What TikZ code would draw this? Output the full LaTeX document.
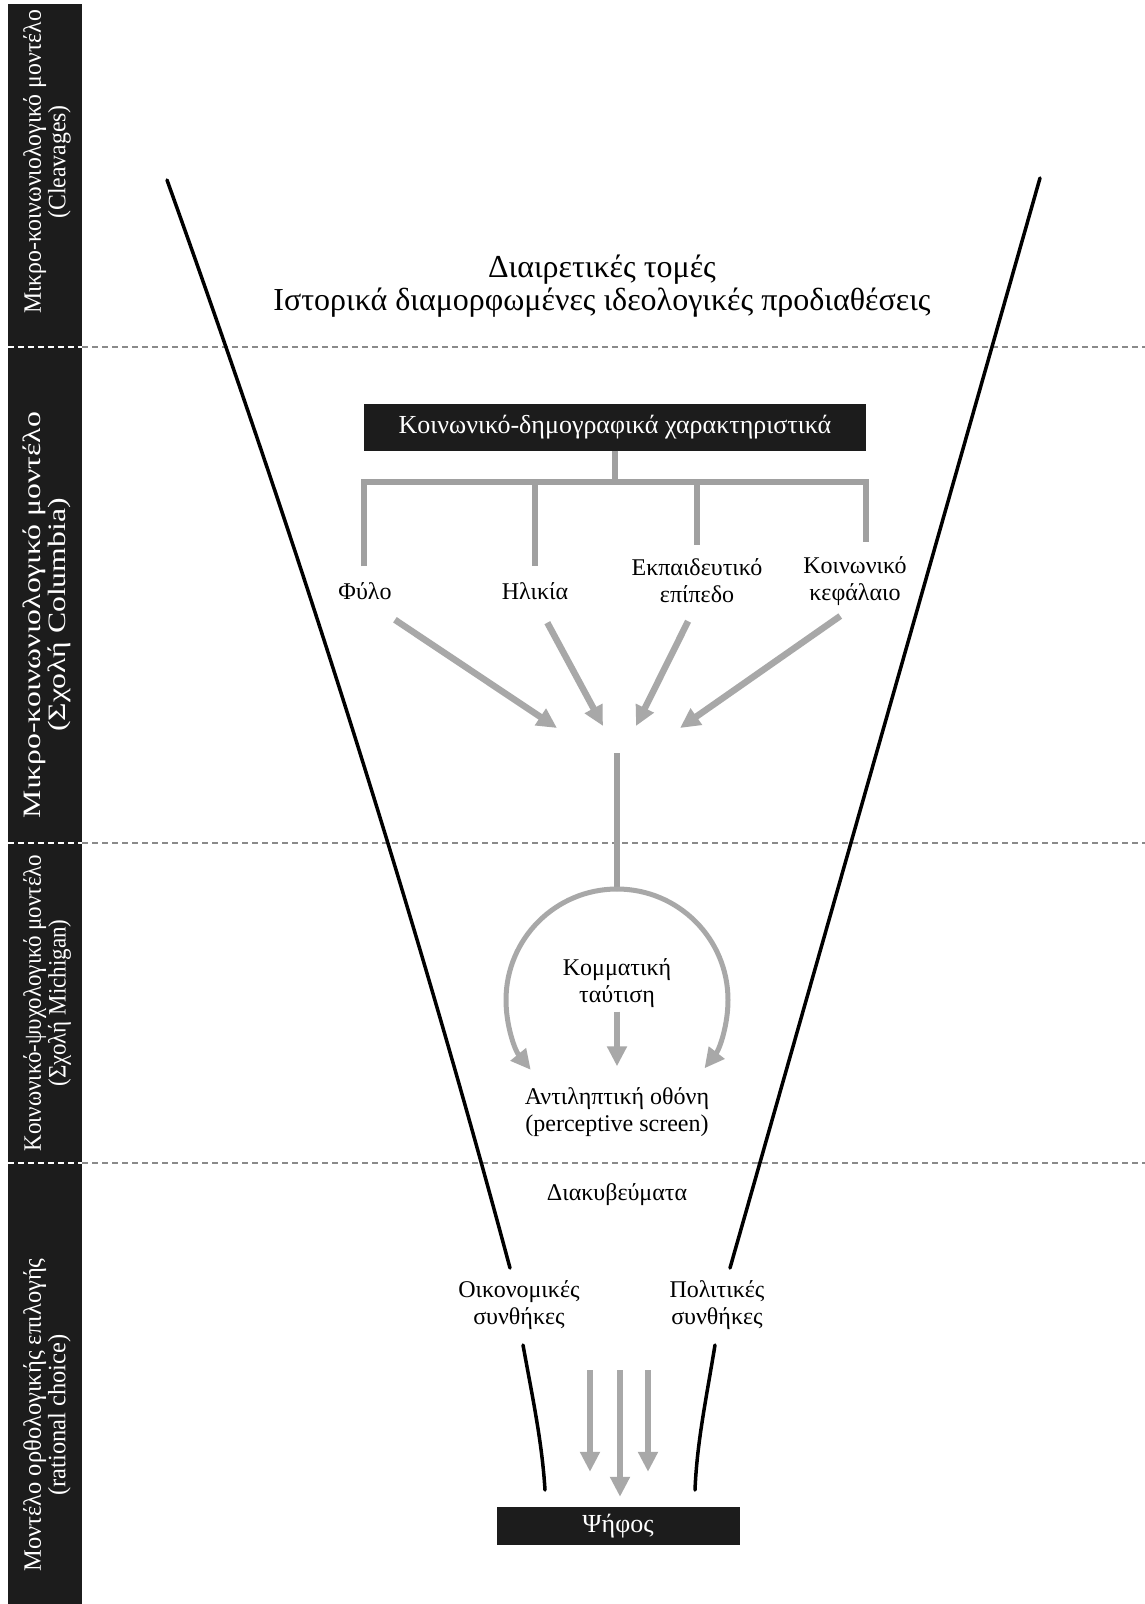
\documentclass[tikz,border=0pt]{standalone}
\usepackage{fontspec}
\setmainfont{Liberation Serif}
\usepackage{graphicx}
\usepackage{tikz}
\usetikzlibrary{positioning,arrows.meta}

\definecolor{barblack}{HTML}{1C1C1C}
\definecolor{arrowgray}{HTML}{A8A8A8}
\definecolor{treegray}{HTML}{A0A0A0}
\definecolor{dashgray}{HTML}{8A8A8A}

\begin{document}
\begin{tikzpicture}[x=1pt, y=-1pt,
    funnel/.style={line width=3.5pt, line cap=round},
    sepline/.style={dashgray, line width=2.2pt, dash pattern=on 6pt off 4pt},
    treeline/.style={treegray, line width=6pt},
    grayarrow/.style={arrowgray, line width=6.5pt, -{Triangle[length=20pt, width=19pt]}},
    lbl/.style={font=\fontsize{24}{27}\selectfont, align=center, inner sep=0pt},
    darkbox/.style={fill=barblack, text=white, inner sep=0pt, font=\fontsize{26}{28}\selectfont},
    sidetext/.style={rotate=90, text=white, font=\fontsize{25}{24}\selectfont, align=center, inner sep=0pt}
]
\useasboundingbox (0,0) rectangle (1145,1604);
\fill[white] (0,0) rectangle (1145,1604);

% side band
\fill[barblack] (8,4) rectangle (82,1604);
\node[sidetext] (cleav) at (48,162) {\scalebox{0.95}[1]{\begin{tabular}{@{}c@{}}Μικρο-κοινωνιολογικό μοντέλο\\(Cleavages)\end{tabular}}};
\node[sidetext] (columbia) at (48,615) {\scalebox{1.27}[1]{\begin{tabular}{@{}c@{}}Μικρο-κοινωνιολογικό μοντέλο\\(Σχολή Columbia)\end{tabular}}};
\node[sidetext] (michigan) at (48,1003) {\scalebox{0.92}[1]{\begin{tabular}{@{}c@{}}Κοινωνικό-ψυχολογικό μοντέλο\\(Σχολή Michigan)\end{tabular}}};
\node[sidetext] (rational) at (48,1415) {\scalebox{0.98}[1]{\begin{tabular}{@{}c@{}}Μοντέλο ορθολογικής επιλογής\\(rational choice)\end{tabular}}};

% separators
\foreach \y in {347,843,1163} {
    \draw[sepline] (82,\y) -- (1145,\y);
    \draw[sepline, white] (8,\y) -- (82,\y);
}

% funnel
\draw[funnel] (167,180) .. controls (297,542) and (412,903) .. (510,1268);
\draw[funnel] (1040,178) -- (730,1268);
\draw[funnel] (523,1345) .. controls (533,1400) and (542,1442) .. (545,1490);
\draw[funnel] (715,1345) .. controls (706,1400) and (697,1442) .. (695,1490);

\node[lbl, font=\fontsize{32}{33}\selectfont] (cleavtitle) at (602,286) {Διαιρετικές τομές\\Ιστορικά διαμορφωμένες ιδεολογικές προδιαθέσεις};

\node[darkbox, minimum width=502pt, minimum height=47pt] (demo) at (615,427) {Κοινωνικό-δημογραφικά χαρακτηριστικά};

\node[lbl] (fylo) at (365,591) {Φύλο};
\node[lbl] (ilikia) at (535,591) {Ηλικία};
\node[lbl] (ekpaid) at (697,581) {Εκπαιδευτικό\\επίπεδο};
\node[lbl] (kefal) at (855,581) {Κοινωνικό\\κεφάλαιο};

\coordinate (split) at (615,482);
\draw[treeline] (demo.south) -- (split);
\draw[treeline] ([yshift=16pt]fylo.north -| demo.west) |- (split) -| ([yshift=14pt]kefal.north -| demo.east);
\draw[treeline] (split -| ilikia) -- ([yshift=16pt]ilikia.north);
\draw[treeline] (split -| ekpaid) -- ([yshift=14pt]ekpaid.north);

\coordinate (m1) at (557,728);
\coordinate (m2) at (603,726);
\coordinate (m3) at (636,726);
\coordinate (m4) at (680,728);
\draw[grayarrow, shorten <=36pt] (fylo.south) -- (m1);
\draw[grayarrow, shorten <=26pt] (ilikia.south) -- (m2);
\draw[grayarrow, shorten <=20pt] (ekpaid.south) -- (m3);
\draw[grayarrow, shorten <=18pt] (kefal.south) -- (m4);

\coordinate (vtop) at (617,753);
\coordinate (arctop) at (617,889);
\draw[treeline] (vtop) -- (arctop);
\draw[grayarrow, line width=5pt] (arctop) arc[start angle=90, end angle=219, radius=111pt];
\draw[grayarrow, line width=5pt] (arctop) arc[start angle=90, end angle=-38, radius=111pt];

\node[lbl] (kommat) at (617,983) {Κομματική\\ταύτιση};
\node[lbl] (antil) at (617,1112) {Αντιληπτική οθόνη\\(perceptive screen)};
\draw[grayarrow, shorten <=4pt, shorten >=21pt] (kommat) -- (antil);

\node[lbl] (diakyv) at (617,1195) {Διακυβεύματα};
\node[lbl] (oikon) at (519,1305) {Οικονομικές\\συνθήκες};
\node[lbl] (polit) at (717,1305) {Πολιτικές\\συνθήκες};

\node[darkbox, minimum width=243pt, minimum height=38pt] (psifos) at (618,1526) {Ψήφος};

\coordinate (v1) at (590,1370);
\coordinate (v2) at (620,1370);
\coordinate (v3) at (648,1370);
\draw[grayarrow, shorten >=35pt] (v1) -- (v1 |- psifos.north);
\draw[grayarrow, shorten >=10pt] (v2) -- (v2 |- psifos.north);
\draw[grayarrow, shorten >=35pt] (v3) -- (v3 |- psifos.north);
\end{tikzpicture}
\end{document}
